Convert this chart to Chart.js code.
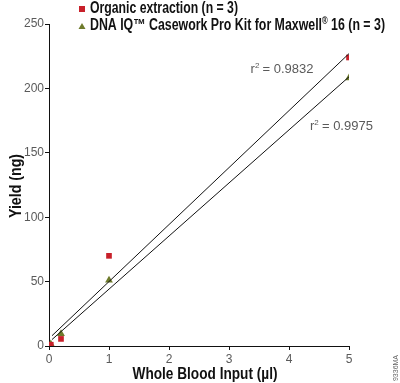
<!DOCTYPE html>
<html>
<head>
<meta charset="utf-8">
<script src="https://cdn.jsdelivr.net/npm/chart.js@4/dist/chart.umd.min.js"></script>
<style>
html,body{margin:0;padding:0;background:#fff;}
#wrap{position:relative;width:400px;height:383px;}
</style>
</head>
<body>
<div id="wrap"><canvas id="c" width="400" height="383"></canvas></div>
<script>
// ---- data ----
const inputVolumes = [0.03, 0.2, 1, 5];          // Whole blood input (µl)
const organicYield = [1, 5.5, 70, 224];          // Organic extraction (ng)
const dnaIqYield   = [1.5, 9.5, 51, 208];        // DNA IQ Casework Pro Kit (ng)
const organicFitX  = [0.05, 5];
const organicFitY  = [8, 227];
const dnaIqFitX    = [0.05, 5];
const dnaIqFitY    = [5, 209];
const xTicks = [0, 1, 2, 3, 4, 5];
const yTicks = [0, 50, 100, 150, 200, 250];
const seriesNames = ['Organic extraction (n = 3)', 'DNA IQ\u2122 Casework Pro Kit for Maxwell\u00ae 16 (n = 3)'];
const r2Labels = ['0.9832', '0.9975'];
const xTitle = 'Whole Blood Input (\u00b5l)';
const yTitle = 'Yield (ng)';

const RED = '#c8202a';
const OLIVE = '#6e7b2c';
const TXT = '#5a5a5a';
const BOLD = '"Liberation Sans", Arial, sans-serif';
const REG = '"Liberation Sans", Arial, sans-serif';

const pts = (xs, ys) => xs.map((x, i) => ({x: x, y: ys[i]}));

// draw text with a small raised ® glyph, squeezed to a target width
function drawRich(ctx, text, x, y, size, targetW) {
  const parts = [];
  let buf = '';
  for (const ch of text) {
    if (ch === '\u00ae') { if (buf) parts.push({t: buf, sup: false}); buf = ''; parts.push({t: ch, sup: true}); }
    else buf += ch;
  }
  if (buf) parts.push({t: buf, sup: false});
  const fontN = 'bold ' + size + 'px ' + BOLD;
  const fontS = 'bold ' + Math.round(size * 0.6) + 'px ' + BOLD;
  let total = 0;
  parts.forEach(p => { ctx.font = p.sup ? fontS : fontN; p.w = ctx.measureText(p.t).width; total += p.w; });
  const k = targetW / total;
  ctx.save();
  ctx.translate(x, y);
  ctx.scale(k, 1);
  let cx = 0;
  parts.forEach(p => {
    ctx.font = p.sup ? fontS : fontN;
    ctx.fillText(p.t, cx, p.sup ? -size * 0.3 : 0);
    cx += p.w;
  });
  ctx.restore();
}

const overlay = {
  id: 'overlay',
  afterDraw(chart) {
    const ctx = chart.ctx;
    const xs = chart.scales.x, ys = chart.scales.y;
    ctx.save();
    // legend
    ctx.textBaseline = 'middle';
    ctx.textAlign = 'left';
    ctx.fillStyle = '#111';
    drawRich(ctx, seriesNames[0], 90, 9, 16, 148);
    drawRich(ctx, seriesNames[1], 90, 26, 16, 295);
    ctx.fillStyle = RED;
    ctx.fillRect(79, 6, 6, 6);
    ctx.fillStyle = OLIVE;
    ctx.beginPath();
    ctx.moveTo(82, 23); ctx.lineTo(85.5, 29); ctx.lineTo(78.5, 29); ctx.closePath(); ctx.fill();
    // axis titles
    ctx.fillStyle = '#111';
    ctx.font = 'bold 16px ' + BOLD;
    ctx.textAlign = 'center';
    ctx.fillText(xTitle, 205, 375, 145);
    ctx.save();
    ctx.translate(17, 186);
    ctx.rotate(-Math.PI / 2);
    ctx.fillText(yTitle, 0, 0, 64);
    ctx.restore();
    // r² labels
    ctx.textAlign = 'left';
    const drawR2 = (label, xv, yv) => {
      let px = xs.getPixelForValue(xv), py = ys.getPixelForValue(yv);
      ctx.fillStyle = TXT;
      ctx.font = '13px ' + REG;
      ctx.textBaseline = 'alphabetic';
      ctx.fillText('r', px, py);
      const w = ctx.measureText('r').width;
      ctx.font = '8px ' + REG;
      ctx.fillText('2', px + w, py - 5);
      ctx.font = '13px ' + REG;
      ctx.fillText(' = ' + label, px + w + 4, py);
    };
    drawR2(r2Labels[0], 3.36, 212);
    drawR2(r2Labels[1], 4.35, 168);
    // figure code
    ctx.translate(396, 368);
    ctx.rotate(-Math.PI / 2);
    ctx.font = '7px ' + REG;
    ctx.fillStyle = '#666';
    ctx.textAlign = 'center';
    ctx.textBaseline = 'middle';
    ctx.fillText('9336MA', 0, 0);
    ctx.restore();
  }
};

new Chart(document.getElementById('c'), {
  type: 'scatter',
  data: {
    datasets: [
      {label: 'fit1', type: 'line', data: pts(organicFitX, organicFitY), borderColor: '#111', borderWidth: 1, pointRadius: 0, fill: false},
      {label: 'fit2', type: 'line', data: pts(dnaIqFitX, dnaIqFitY), borderColor: '#111', borderWidth: 1, pointRadius: 0, fill: false},
      {label: seriesNames[0], data: pts(inputVolumes, organicYield), pointStyle: 'rect', pointRadius: 4, backgroundColor: RED, borderColor: RED, borderWidth: 0},
      {label: seriesNames[1], data: pts(inputVolumes, dnaIqYield), pointStyle: 'triangle', pointRadius: 4.5, backgroundColor: OLIVE, borderColor: OLIVE, borderWidth: 0}
    ]
  },
  options: {
    responsive: false,
    animation: false,
    devicePixelRatio: 1,
    layout: {padding: {top: 24, right: 51, left: 0, bottom: 0}},
    plugins: {legend: {display: false}, tooltip: {enabled: false}},
    scales: {
      x: {
        type: 'linear', min: 0, max: 5,
        afterBuildTicks(s) { s.ticks = xTicks.map(v => ({value: v})); },
        afterFit(s) { s.height = 37; },
        grid: {drawOnChartArea: false, drawTicks: true, tickLength: 4, color: '#111'},
        border: {display: true, color: '#111', width: 1},
        ticks: {color: TXT, font: {size: 12, family: REG}, padding: 2, maxRotation: 0},
        title: {display: false}
      },
      y: {
        type: 'linear', min: 0, max: 250,
        afterBuildTicks(s) { s.ticks = yTicks.map(v => ({value: v})); },
        afterFit(s) { s.width = 49; },
        grid: {drawOnChartArea: false, drawTicks: true, tickLength: 4, color: '#111'},
        border: {display: true, color: '#111', width: 1},
        ticks: {color: TXT, font: {size: 12, family: REG}, padding: 1},
        title: {display: false}
      }
    }
  },
  plugins: [overlay]
});
</script>
</body>
</html>
